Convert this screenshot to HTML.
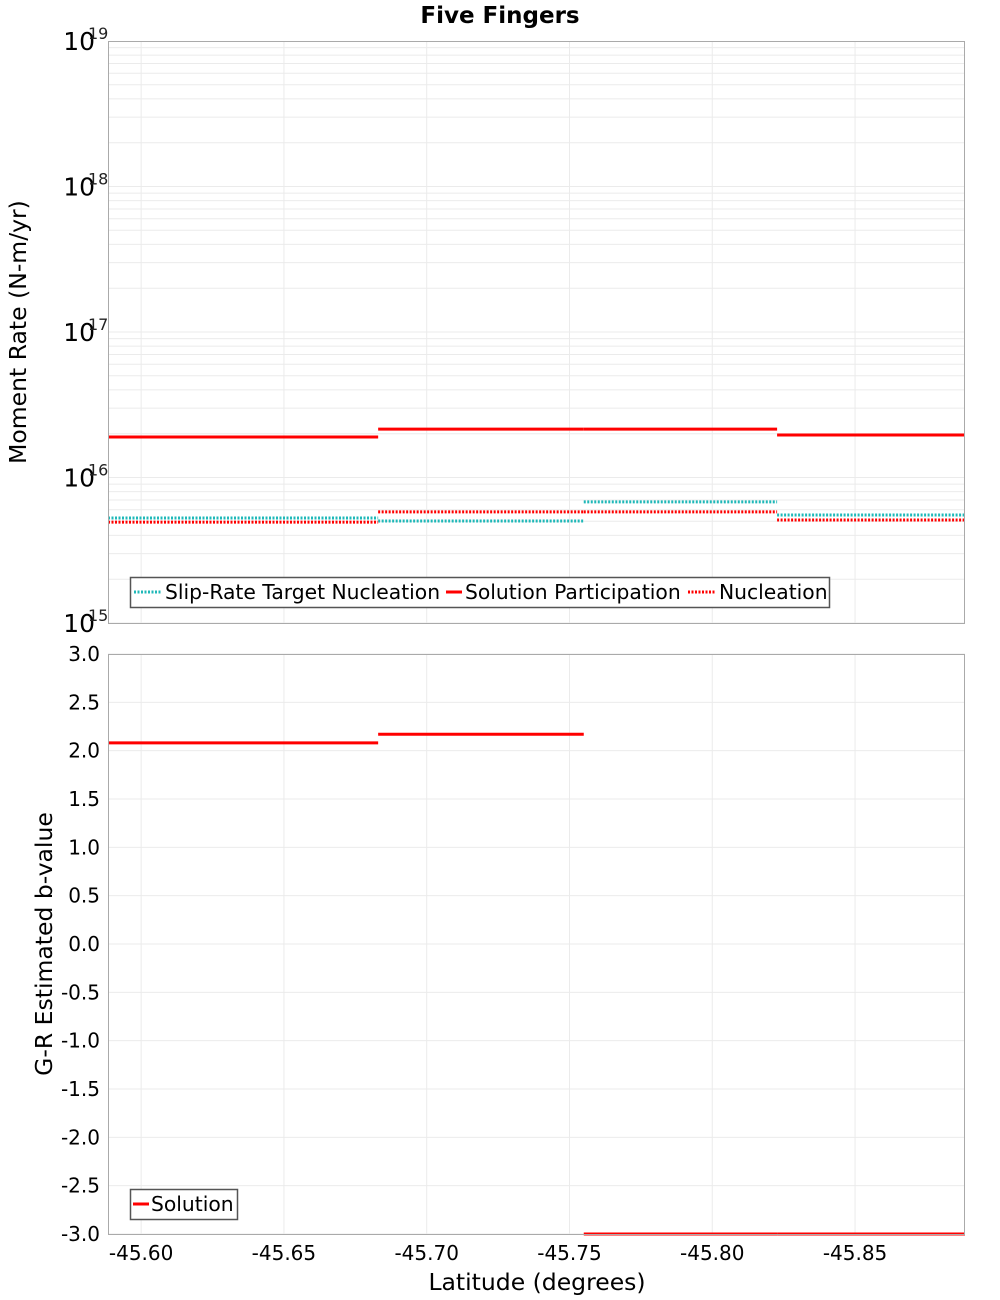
<!DOCTYPE html>
<html><head><meta charset="utf-8"><style>
body{margin:0;background:#fff;}
svg{display:block;font-family:"DejaVu Sans","Liberation Sans",sans-serif;}
</style></head><body>
<svg id="chart" width="1000" height="1300" xmlns="http://www.w3.org/2000/svg">
<text x="500" y="23" text-anchor="middle" font-size="23" font-weight="bold">Five Fingers</text>
</svg>
<script>
const segStart=[-45.5884,-45.683,-45.755,-45.8227];
const segEnd=[-45.683,-45.755,-45.8227,-45.8885];
const targetNucleation=[5.27e15,5.02e15,6.8e15,5.52e15];
const solutionParticipation=[1.9e16,2.15e16,2.15e16,1.96e16];
const nucleation=[4.94e15,5.8e15,5.8e15,5.1e15];
const bValue=[2.08,2.17,-3.0,-3.0];
const xTicks=[-45.60,-45.65,-45.70,-45.75,-45.80,-45.85];
const logTicks=[15,16,17,18,19];
const bTicks=[-3,-2.5,-2,-1.5,-1,-0.5,0,0.5,1,1.5,2,2.5,3];

const NS="http://www.w3.org/2000/svg";
const svg=document.getElementById('chart');
const L=108,R=965,T1=41,B1=623,T2=654,B2=1234;
const xMin=-45.5884,xMax=-45.8885;
function xs(v){return L+(v-xMin)/(xMax-xMin)*(R-L);}
function ys1(v){const lg=Math.log10(v);return B1-(lg-15)/4*(B1-T1);}
function ys2(v){return B2-(v+3)/6*(B2-T2);}
function el(tag,attrs,parent){const e=document.createElementNS(NS,tag);for(const k in attrs)e.setAttribute(k,attrs[k]);(parent||svg).appendChild(e);return e;}

const g1=el('g',{});


for(let d=15;d<19;d++){for(let m=1;m<10;m++){const y=ys1(m*Math.pow(10,d));el('line',{x1:L,x2:R,y1:y,y2:y,stroke:'#ebebeb','stroke-width':1},g1);}}
const g2=el('g',{});


bTicks.forEach(v=>{const y=ys2(v);el('line',{x1:L,x2:R,y1:y,y2:y,stroke:'#ebebeb','stroke-width':1},g2);});
xTicks.forEach(v=>{const x=xs(v);el('line',{x1:x,x2:x,y1:T1,y2:B1,stroke:'#ebebeb'},g1);el('line',{x1:x,x2:x,y1:T2,y2:B2,stroke:'#ebebeb'},g2);});

function drawSeries(arr,yfn,color,dash,name){
  const g=el('g',{});
  
  
  arr.forEach((v,i)=>{const y=yfn(v);const a={x1:xs(segStart[i]),x2:xs(segEnd[i]),y1:y,y2:y,stroke:color,'stroke-width':3};if(dash)a['stroke-dasharray']='2,1.5';el('line',a,g);});
}
drawSeries(targetNucleation,ys1,'#1fb8b8',true,'series-slip-rate-target-nucleation');
drawSeries(nucleation,ys1,'#ff0000',true,'series-nucleation');
drawSeries(solutionParticipation,ys1,'#ff0000',false,'series-solution-participation');
drawSeries(bValue,ys2,'#ff0000',false,'series-solution-b-value');

const f1=el('rect',{x:L+.5,y:T1+.5,width:R-L-1,height:B1-T1,fill:'none',stroke:'#aaa'});


const f2=el('rect',{x:L+.5,y:T2+.5,width:R-L-1,height:B2-T2,fill:'none',stroke:'#aaa'});



logTicks.forEach(d=>{const y=ys1(Math.pow(10,d));
  const t=el('text',{x:95,y:y+9,'text-anchor':'end','font-size':25});t.textContent='10';
  
  
  const s=el('text',{x:88,y:y-2,'font-size':16,fill:'#222'});s.textContent=String(d);
  
  
});
bTicks.forEach(v=>{const t=el('text',{x:100,y:ys2(v)+7,'text-anchor':'end','font-size':20});t.textContent=v.toFixed(1);
  
  });
xTicks.forEach(v=>{const t=el('text',{x:xs(v),y:1260,'text-anchor':'middle','font-size':20});t.textContent=v.toFixed(2);
  
  });

const yt1=el('text',{x:0,y:0,'text-anchor':'middle','font-size':23.5,transform:'translate(26,332) rotate(-90)'});yt1.textContent='Moment Rate (N-m/yr)';


const yt2=el('text',{x:0,y:0,'text-anchor':'middle','font-size':23.5,transform:'translate(52,944) rotate(-90)'});yt2.textContent='G-R Estimated b-value';


const xt=el('text',{x:537,y:1290,'text-anchor':'middle','font-size':23.5});xt.textContent='Latitude (degrees)';



const lg1=el('g',{});


el('rect',{x:130.5,y:577.5,width:699,height:30,fill:'#fff',stroke:'#555','stroke-width':1.5},lg1);
const items=[{x:134,label:'Slip-Rate Target Nucleation',c:'#1fb8b8',d:true,w:28},{x:446,label:'Solution Participation',c:'#ff0000',d:false,w:16},{x:688,label:'Nucleation',c:'#ff0000',d:true,w:28}];
items.forEach(it=>{const a={x1:it.x,x2:it.x+it.w,y1:592,y2:592,stroke:it.c,'stroke-width':3};if(it.d)a['stroke-dasharray']='2,1.5';el('line',a,lg1);
  const t=el('text',{x:it.x+it.w+3,y:599,'font-size':20.3},lg1);t.textContent=it.label;
  
  });
const lg2=el('g',{});


el('rect',{x:130.5,y:1189.5,width:107,height:30,fill:'#fff',stroke:'#555','stroke-width':1.5},lg2);
el('line',{x1:133,x2:149,y1:1204,y2:1204,stroke:'#ff0000','stroke-width':3},lg2);
const t2=el('text',{x:151,y:1211,'font-size':20.3},lg2);t2.textContent='Solution';


</script>
</body></html>
